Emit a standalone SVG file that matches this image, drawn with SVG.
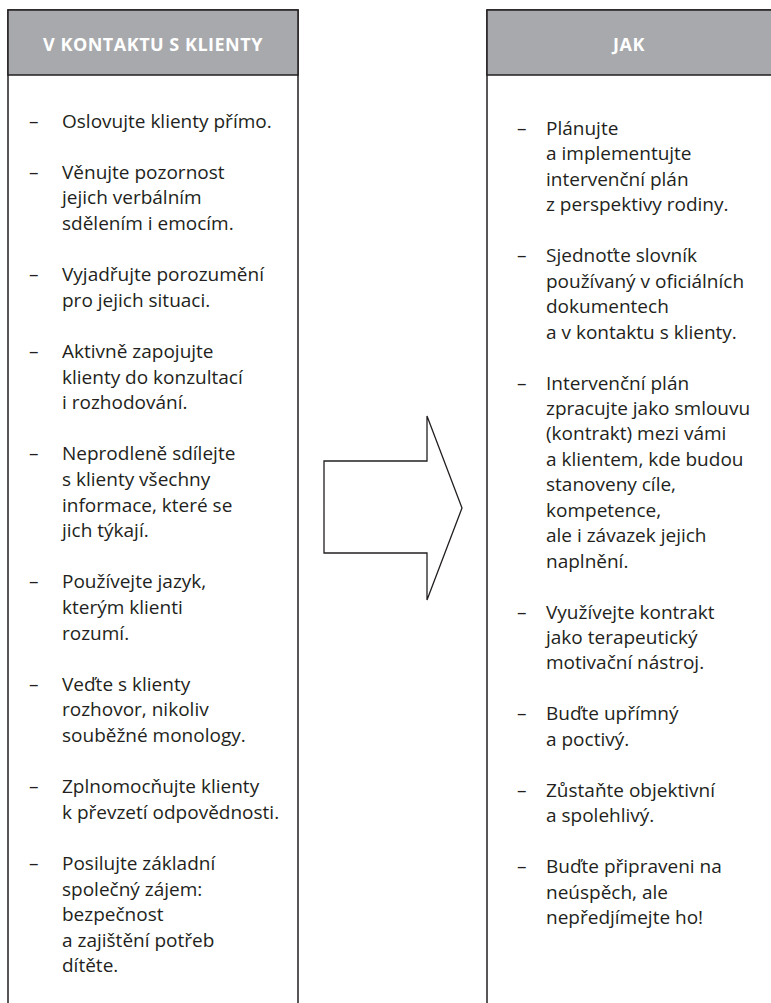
<svg xmlns="http://www.w3.org/2000/svg" width="771" height="1003" viewBox="0 0 771 1003">
<style>
.bg{fill:#ffffff}
.box{fill:none;stroke:#231f20;stroke-width:1.5}
.hdr{fill:#a7a9ac;stroke:#231f20;stroke-width:1.5}
.ht{font-family:"Open Sans","Liberation Sans",sans-serif;font-weight:bold;font-size:18px;letter-spacing:0.5px;fill:#ffffff;text-anchor:middle}
.t{font-family:"Open Sans","Liberation Sans",sans-serif;font-size:19px;fill:#231f20}
.arrow{fill:#ffffff;stroke:#231f20;stroke-width:1.3;stroke-linejoin:miter}
</style>
<rect class="bg" x="0" y="0" width="771" height="1003"/>
<g id="left-column">
<path class="box" d="M8,1004 V10 H298 V1004"/>
<rect class="hdr" x="8" y="10" width="290" height="65"/>
<text class="ht" x="153" y="51">V KONTAKTU S KLIENTY</text>
<g class="t">
<text x="29" y="127.5">–</text><text x="62" y="127.5">Oslovujte klienty přímo.</text>
<text x="29" y="178.7">–</text><text x="62" y="178.7">Věnujte pozornost</text>
<text x="62" y="204.3">jejich verbálním</text>
<text x="62" y="229.9">sdělením i emocím.</text>
<text x="29" y="281.1">–</text><text x="62" y="281.1">Vyjadřujte porozumění</text>
<text x="62" y="306.7">pro jejich situaci.</text>
<text x="29" y="357.9">–</text><text x="62" y="357.9">Aktivně zapojujte</text>
<text x="62" y="383.5">klienty do konzultací</text>
<text x="62" y="409.1">i rozhodování.</text>
<text x="29" y="460.3">–</text><text x="62" y="460.3">Neprodleně sdílejte</text>
<text x="62" y="485.9">s klienty všechny</text>
<text x="62" y="511.5">informace, které se</text>
<text x="62" y="537.1">jich týkají.</text>
<text x="29" y="588.3">–</text><text x="62" y="588.3">Používejte jazyk,</text>
<text x="62" y="613.9">kterým klienti</text>
<text x="62" y="639.5">rozumí.</text>
<text x="29" y="690.7">–</text><text x="62" y="690.7">Veďte s klienty</text>
<text x="62" y="716.3">rozhovor, nikoliv</text>
<text x="62" y="741.9">souběžné monology.</text>
<text x="29" y="793.1">–</text><text x="62" y="793.1">Zplnomocňujte klienty</text>
<text x="62" y="818.7">k převzetí odpovědnosti.</text>
<text x="29" y="869.9">–</text><text x="62" y="869.9">Posilujte základní</text>
<text x="62" y="895.5">společný zájem:</text>
<text x="62" y="921.1">bezpečnost</text>
<text x="62" y="946.7">a zajištění potřeb</text>
<text x="62" y="972.3">dítěte.</text>
</g>
</g>
<g id="right-column">
<path class="box" d="M487,1004 V10 H773"/>
<rect class="hdr" x="487" y="10" width="286" height="65"/>
<text class="ht" x="629" y="51">JAK</text>
<g class="t">
<text x="517" y="135">–</text><text x="546" y="135">Plánujte</text>
<text x="546" y="160.45">a implementujte</text>
<text x="546" y="185.9">intervenční plán</text>
<text x="546" y="211.35">z perspektivy rodiny.</text>
<text x="517" y="262.25">–</text><text x="546" y="262.25">Sjednoťte slovník</text>
<text x="546" y="287.7">používaný v oficiálních</text>
<text x="546" y="313.15">dokumentech</text>
<text x="546" y="338.6">a v kontaktu s klienty.</text>
<text x="517" y="389.5">–</text><text x="546" y="389.5">Intervenční plán</text>
<text x="546" y="414.95">zpracujte jako smlouvu</text>
<text x="546" y="440.4">(kontrakt) mezi vámi</text>
<text x="546" y="465.85">a klientem, kde budou</text>
<text x="546" y="491.3">stanoveny cíle,</text>
<text x="546" y="516.75">kompetence,</text>
<text x="546" y="542.2">ale i závazek jejich</text>
<text x="546" y="567.65">naplnění.</text>
<text x="517" y="618.55">–</text><text x="546" y="618.55">Využívejte kontrakt</text>
<text x="546" y="644">jako terapeutický</text>
<text x="546" y="669.45">motivační nástroj.</text>
<text x="517" y="720.35">–</text><text x="546" y="720.35">Buďte upřímný</text>
<text x="546" y="745.8">a poctivý.</text>
<text x="517" y="796.7">–</text><text x="546" y="796.7">Zůstaňte objektivní</text>
<text x="546" y="822.15">a spolehlivý.</text>
<text x="517" y="873.05">–</text><text x="546" y="873.05">Buďte připraveni na</text>
<text x="546" y="898.5">neúspěch, ale</text>
<text x="546" y="923.95">nepředjímejte ho!</text>
</g>
</g>
<g id="connectors">
<polygon class="arrow" points="324,461 427,461 427,416 462,508 427,600 427,553 324,553"/>
</g>
</svg>
